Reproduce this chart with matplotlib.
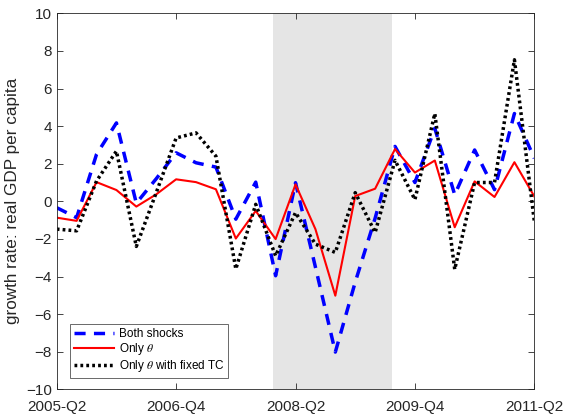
import matplotlib
matplotlib.use("Agg")
import matplotlib.pyplot as plt
import numpy as np

plt.rcParams["font.family"] = ["Liberation Sans", "DejaVu Sans"]
plt.rcParams["mathtext.fontset"] = "stix"

# quarterly index 0 = 2005-Q2 ... 24 = 2011-Q2
quarters = np.arange(25)
tick_pos = [0, 6, 12, 18, 24]
tick_labels = ["2005-Q2", "2006-Q4", "2008-Q2", "2009-Q4", "2011-Q2"]
recession = (10.85, 16.85)

both_shocks = [-0.34, -0.87, 2.5, 4.17, -0.1, 1.2, 2.58, 2.05, 1.82,
               -0.95, 1.02, -3.96, 0.99, -3.5, -8.02, -4.3, -0.9, 2.92,
               1.0, 3.88, 0.35, 2.73, 0.62, 4.67, 2.29]
only_theta = [-0.87, -1.04, 1.02, 0.6, -0.28, 0.37, 1.17, 1.02, 0.64,
              -1.98, -0.51, -2.01, 0.9, -1.48, -5.02, 0.28, 0.67, 2.78,
              1.53, 2.17, -1.38, 1.06, 0.23, 2.08, 0.26]
theta_fixed_tc = [-1.48, -1.57, 1.08, 2.67, -2.4, 0.46, 3.37, 3.64, 2.4,
                  -3.6, -0.16, -2.9, -0.6, -2.28, -2.72, 0.46, -1.66, 2.18,
                  0.09, 4.67, -3.62, 1.0, 1.0, 7.53, -1.06]

fig = plt.figure(figsize=(5.65, 4.19), dpi=100)
ax = fig.add_axes([0.1004, 0.0709, 0.8453, 0.8973])

ax.axvspan(*recession, color="#e5e5e5", lw=0, zorder=0)
ax.plot(quarters, both_shocks, color="#0000ff", ls=(0, (3.2, 2.4)), lw=2.5,
        label="Both shocks")
ax.plot(quarters, only_theta, color="#ff0000", lw=1.5, label=r"Only $\theta$")
ax.plot(quarters, theta_fixed_tc, color="black", ls=(0, (0.8, 0.9)), lw=2.5,
        label=r"Only $\theta$ with fixed TC")

ax.set_xlim(0, 24)
ax.set_ylim(-10, 10)
ax.set_xticks(tick_pos)
ax.set_xticklabels(tick_labels)
ax.set_yticks(np.arange(-10, 11, 2))
ax.set_ylabel("growth rate: real GDP per capita", fontsize=12.3,
              color="#262626", labelpad=4)

for s in ax.spines.values():
    s.set_color("#262626")
    s.set_linewidth(0.6)
ax.tick_params(direction="in", top=True, right=True, length=4, width=0.6,
               colors="#262626", labelsize=11, labelcolor="#262626")
ax.tick_params(axis="x", pad=8)

leg = ax.legend(loc="lower left", bbox_to_anchor=(0.028, 0.03), fontsize=8.5,
                frameon=True, fancybox=False, edgecolor="#262626",
                handlelength=3.4, borderpad=0.3, labelspacing=0.12,
                handletextpad=0.4, borderaxespad=0.0)
leg.get_frame().set_linewidth(0.6)

fig.savefig("out.png", dpi=100)
